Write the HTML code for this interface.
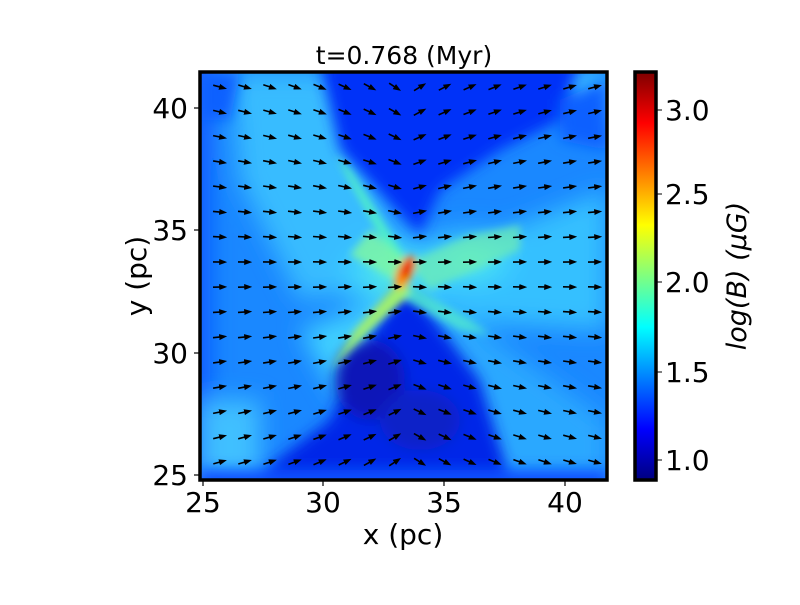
<!DOCTYPE html>
<html><head><meta charset="utf-8"><style>
body{margin:0;background:#fff;width:800px;height:600px;overflow:hidden}
text{font-family:"DejaVu Sans","Liberation Sans",sans-serif}
</style></head><body>
<svg width="800" height="600" xmlns="http://www.w3.org/2000/svg">
<defs>
<filter id="b" x="-30%" y="-30%" width="160%" height="160%"><feGaussianBlur stdDeviation="12"/></filter>
<filter id="bm" x="-30%" y="-30%" width="160%" height="160%"><feGaussianBlur stdDeviation="7"/></filter>
<filter id="b2" x="-30%" y="-30%" width="160%" height="160%"><feGaussianBlur stdDeviation="4"/></filter>
<radialGradient id="cg" cx="0.5" cy="0.5" r="0.5"><stop offset="0" stop-color="#60f8d0"/><stop offset="0.5" stop-color="#40d8ff" stop-opacity="0.8"/><stop offset="1" stop-color="#30b0ff" stop-opacity="0"/></radialGradient>
<clipPath id="c"><rect x="200" y="72" width="407" height="408"/></clipPath>
<linearGradient id="jet" x1="0" y1="1" x2="0" y2="0">
<stop offset="0" stop-color="#00007f"/><stop offset="0.125" stop-color="#0000ff"/>
<stop offset="0.375" stop-color="#00ffff"/><stop offset="0.625" stop-color="#ffff00"/>
<stop offset="0.875" stop-color="#ff0000"/><stop offset="1" stop-color="#7f0000"/>
</linearGradient>
<marker id="ah" markerWidth="8" markerHeight="8" refX="5" refY="4" orient="auto" markerUnits="userSpaceOnUse"><path d="M0,1 L8,4 L0,7z" fill="#000"/></marker>
</defs>
<g clip-path="url(#c)">
<rect x="200" y="72" width="407" height="408" fill="#1a88ff"/>
<g filter="url(#b)">
<rect x="180" y="60" width="30" height="440" fill="#0858ff"/>
<polygon points="230,72 330,72 400,240 405,280 300,300 240,180" fill="#38bcff"/>
<polygon points="405,270 607,190 607,330 450,320" fill="#34c0ff"/>
<polygon points="200,400 260,400 260,480 200,480" fill="#40c0ff"/>
<polygon points="530,72 607,72 607,120 560,110" fill="#40c0ff"/>
<polygon points="380,290 440,300 607,420 607,480 500,480" fill="#2aa8ff"/>
<polygon points="300,330 390,300 410,300 340,400" fill="#40d0ff"/>
<ellipse cx="395" cy="275" rx="80" ry="55" fill="url(#cg)"/>
<ellipse cx="470" cy="260" rx="70" ry="40" fill="url(#cg)"/>
</g>
<g filter="url(#bm)">
<polygon points="320,60 580,60 560,120 500,150 440,190 420,235 340,150" fill="#0430f8"/>
<polygon points="400,290 420,300 480,380 510,480 250,480 330,420 360,350" fill="#0428e8"/>
<ellipse cx="370" cy="380" rx="35" ry="40" fill="#0818b8"/>
<ellipse cx="420" cy="420" rx="40" ry="30" fill="#0a20c8"/>
<polygon points="560,100 607,80 607,150 560,140" fill="#1060ff"/>
<polygon points="200,72 240,72 230,120 200,120" fill="#0c60ff"/>
<polygon points="200,470 607,470 607,490 200,490" fill="#0c50ff"/>
</g>
<g filter="url(#b2)">
<polygon points="335,155 350,170 408,262 398,268" fill="#50f0c8"/>
<polygon points="370,230 408,262 395,280 350,255" fill="#80f8a0" opacity="0.8"/>
<polygon points="408,262 470,235 520,225 520,250 430,290" fill="#70f0b0" opacity="0.7"/>
<polygon points="355,330 400,280 415,290 370,330 330,370" fill="#a0f070"/>
<polygon points="410,285 470,320 490,335 460,330 405,300" fill="#50e8d0" opacity="0.8"/>
<ellipse cx="405" cy="272" rx="8" ry="18" fill="#ff9000" transform="rotate(25 405 272)"/>
<ellipse cx="407" cy="268" rx="5" ry="11" fill="#e81000" transform="rotate(25 407 268)"/>
</g>
<g id="arr" stroke="#000" stroke-width="1.6" fill="none"></g>
</g>
<rect x="200" y="72" width="407" height="408" fill="none" stroke="#000" stroke-width="3.5"/>
<text x="404" y="64" font-size="25" text-anchor="middle">t=0.768 (Myr)</text>
<g font-size="28" text-anchor="middle">
<text x="203" y="512">25</text><text x="323" y="512">30</text><text x="444" y="512">35</text><text x="565" y="512">40</text>
</g>
<g stroke="#000" stroke-width="1.2">
<line x1="203" y1="480" x2="203" y2="486"/><line x1="323" y1="480" x2="323" y2="486"/><line x1="444" y1="480" x2="444" y2="486"/><line x1="565" y1="480" x2="565" y2="486"/>
<line x1="194" y1="108" x2="200" y2="108"/><line x1="194" y1="230" x2="200" y2="230"/><line x1="194" y1="353" x2="200" y2="353"/><line x1="194" y1="475" x2="200" y2="475"/>
</g>
<g font-size="28" text-anchor="end">
<text x="188" y="118">40</text><text x="188" y="240">35</text><text x="188" y="363">30</text><text x="188" y="485">25</text>
</g>
<text x="403" y="544" font-size="28" text-anchor="middle">x (pc)</text>
<text transform="translate(146 276) rotate(-90)" font-size="28" text-anchor="middle">y (pc)</text>
<rect x="635" y="72" width="21" height="408" fill="url(#jet)" stroke="#000" stroke-width="3.5"/>
<g stroke="#000"><line x1="656" y1="110" x2="662" y2="110"/><line x1="656" y1="194" x2="662" y2="194"/><line x1="656" y1="282" x2="662" y2="282"/><line x1="656" y1="372" x2="662" y2="372"/><line x1="656" y1="460" x2="662" y2="460"/></g>
<g font-size="28"><text x="665" y="120">3.0</text><text x="665" y="204">2.5</text><text x="665" y="292">2.0</text><text x="665" y="382">1.5</text><text x="665" y="470">1.0</text></g>
<text transform="translate(746 276) rotate(-90)" font-size="27" text-anchor="middle" font-style="italic">log(B) (μG)</text>
</svg>
<script>
var g=document.getElementById('arr'),s='';
for(var r=0;r<16;r++){for(var c=0;c<16;c++){
var x=220+c*25,y=87+r*25,dx=x-405,dy=272-y;
var a=Math.atan(0.45*dy/(Math.abs(dx)+120));
if(x>405)a=-a;
var L=7,cx=Math.cos(a)*L,cy=Math.sin(a)*L;
s+='<line x1="'+(x-cx).toFixed(1)+'" y1="'+(y-cy).toFixed(1)+'" x2="'+(x+cx*0.6).toFixed(1)+'" y2="'+(y+cy*0.6).toFixed(1)+'" marker-end="url(#ah)"/>';}}
g.innerHTML=s;
</script>
</body></html>
